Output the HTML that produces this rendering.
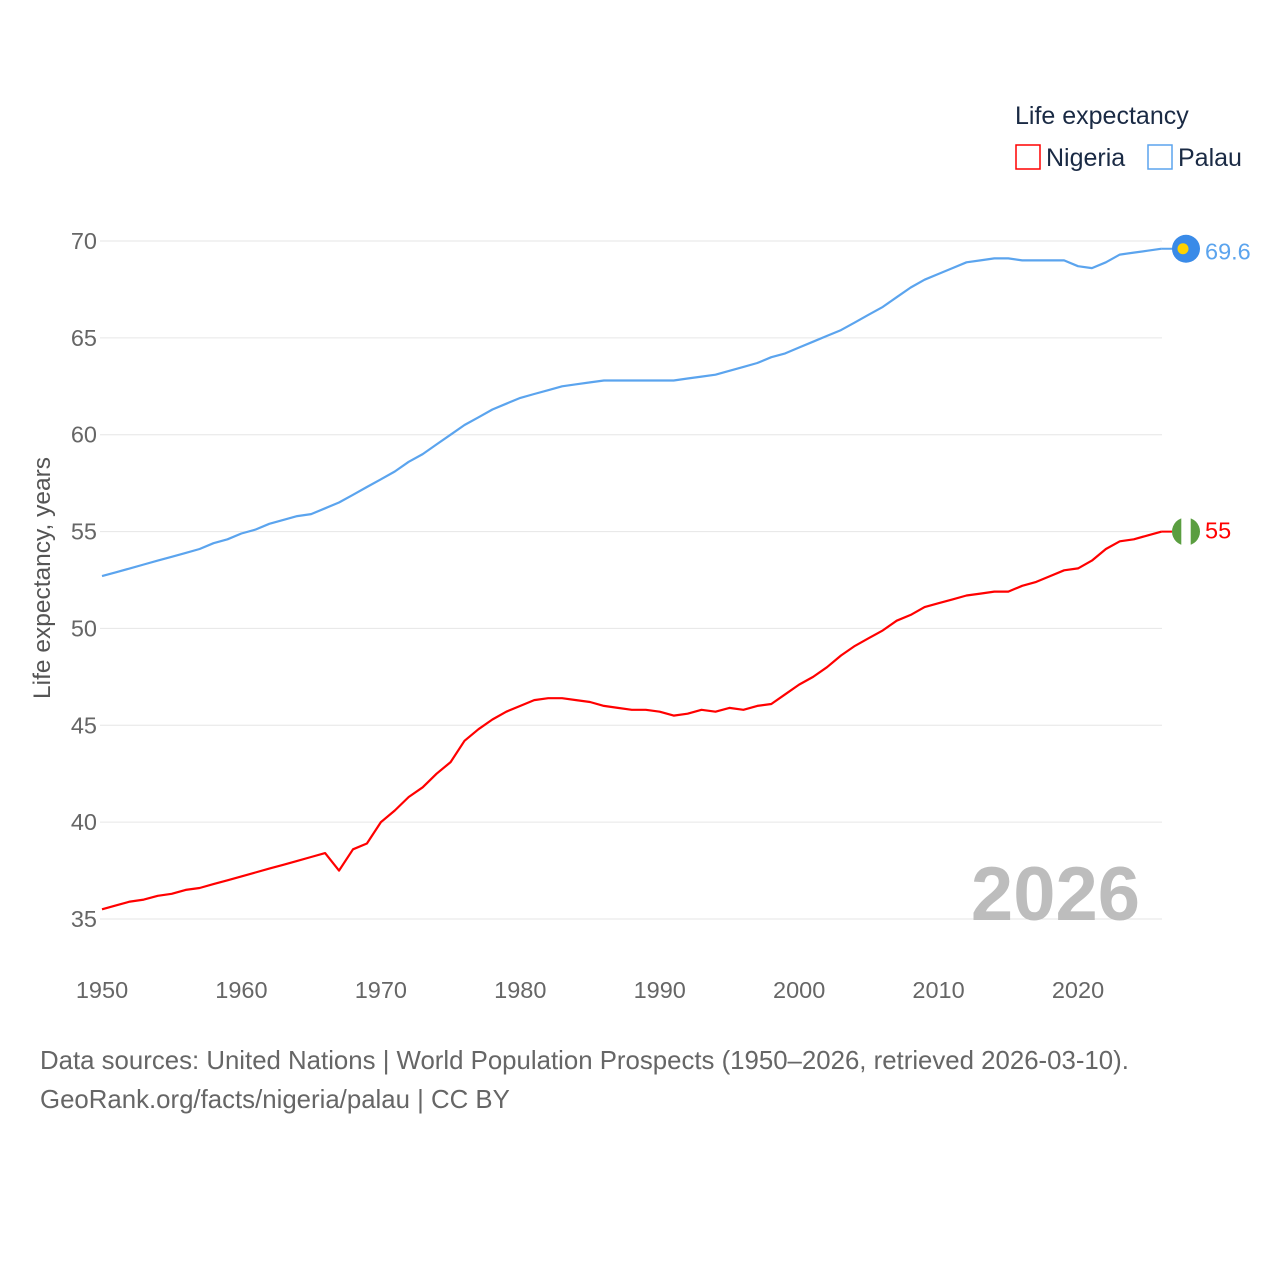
<!DOCTYPE html>
<html><head><meta charset="utf-8">
<style>
html,body{margin:0;padding:0;background:#fff;}
svg{display:block;font-family:"Liberation Sans",sans-serif;}
</style></head>
<body>
<svg id="chart" width="1280" height="1280" xmlns="http://www.w3.org/2000/svg">
<g id="grid"></g>
<g id="yticks"></g>
<g id="xticks"></g>
<text x="50" y="578" transform="rotate(-90 50 578)" text-anchor="middle" font-size="24.5" fill="#555">Life expectancy, years</text>
<text x="1140" y="920" text-anchor="end" font-size="76" font-weight="bold" fill="#bdbdbd">2026</text>
<g id="series"></g>
<g>
<text x="1015" y="124" font-size="25" fill="#1a2a44">Life expectancy</text>
<g><rect x="1016" y="145" width="24" height="24" fill="none" stroke="#ff0000" stroke-width="1.5"/><text x="1046" y="166" font-size="25" fill="#1a2a44">Nigeria</text></g>
<g><rect x="1148" y="145" width="24" height="24" fill="none" stroke="#5ba4ee" stroke-width="1.5"/><text x="1178" y="166" font-size="25" fill="#1a2a44">Palau</text></g>
</g>
<g id="ends"></g>
<text x="40" y="1069" font-size="25.8" fill="#666">Data sources: United Nations | World Population Prospects (1950–2026, retrieved 2026-03-10).</text>
<text x="40" y="1108" font-size="25.8" fill="#666">GeoRank.org/facts/nigeria/palau | CC BY</text>
</svg>
<script>
const years=[];for(let y=1950;y<=2026;y++)years.push(y);
const palau=[52.7,52.9,53.1,53.3,53.5,53.7,53.9,54.1,54.4,54.6,54.9,55.1,55.4,55.6,55.8,55.9,56.2,56.5,56.9,57.3,57.7,58.1,58.6,59.0,59.5,60.0,60.5,60.9,61.3,61.6,61.9,62.1,62.3,62.5,62.6,62.7,62.8,62.8,62.8,62.8,62.8,62.8,62.9,63.0,63.1,63.3,63.5,63.7,64.0,64.2,64.5,64.8,65.1,65.4,65.8,66.2,66.6,67.1,67.6,68.0,68.3,68.6,68.9,69.0,69.1,69.1,69.0,69.0,69.0,69.0,68.7,68.6,68.9,69.3,69.4,69.5,69.6];
const nigeria=[35.5,35.7,35.9,36.0,36.2,36.3,36.5,36.6,36.8,37.0,37.2,37.4,37.6,37.8,38.0,38.2,38.4,37.5,38.6,38.9,40.0,40.6,41.3,41.8,42.5,43.1,44.2,44.8,45.3,45.7,46.0,46.3,46.4,46.4,46.3,46.2,46.0,45.9,45.8,45.8,45.7,45.5,45.6,45.8,45.7,45.9,45.8,46.0,46.1,46.6,47.1,47.5,48.0,48.6,49.1,49.5,49.9,50.4,50.7,51.1,51.3,51.5,51.7,51.8,51.9,51.9,52.2,52.4,52.7,53.0,53.1,53.5,54.1,54.5,54.6,54.8,55.0];
const yTicks=[35,40,45,50,55,60,65,70];
const xTicks=[1950,1960,1970,1980,1990,2000,2010,2020];
const endLabels=["69.6","55"];
const NS="http://www.w3.org/2000/svg";
const X=v=>102+(v-1950)*(976/70);
const Y=v=>241+(70-v)*(678/35);
function mk(tag,attrs,parent){const e=document.createElementNS(NS,tag);for(const k in attrs)e.setAttribute(k,attrs[k]);parent.appendChild(e);return e;}
const grid=document.getElementById('grid'),yt=document.getElementById('yticks'),xt=document.getElementById('xticks');
yTicks.forEach(t=>{
 const l=mk('line',{x1:100,x2:1162,y1:Y(t),y2:Y(t),stroke:'#e6e6e6','stroke-width':1},grid);
 
 
 const tx=mk('text',{x:97,y:Y(t)+8,'text-anchor':'end','font-size':23.5,fill:'#666'},yt);tx.textContent=t;
 
 
});
xTicks.forEach(t=>{
 const tx=mk('text',{x:X(t),y:998,'text-anchor':'middle','font-size':23.5,fill:'#666'},xt);tx.textContent=t;
 
 
});
const sg=document.getElementById('series');
function line(data,color,name){
 const d=data.map((v,i)=>(i?'L':'M')+X(years[i]).toFixed(1)+','+Y(v).toFixed(1)).join('');
 const p=mk('path',{d:d,fill:'none',stroke:color,'stroke-width':2.2,'stroke-linejoin':'round'},sg);
 
 
}
line(palau,'#5ba4ee','palau-line');
line(nigeria,'#ff0000','nigeria-line');
const ends=document.getElementById('ends');
const lx=X(2026);
const pv=palau[palau.length-1],nv=nigeria[nigeria.length-1];
mk('line',{x1:lx,x2:1186,y1:Y(pv),y2:Y(pv),stroke:'#5ba4ee','stroke-width':2},ends);
const pc=mk('circle',{cx:1186,cy:Y(pv),r:14,fill:'#3a8be8'},ends);


mk('circle',{cx:1183,cy:Y(pv),r:5.5,fill:'#ffd200'},ends);
const pl=mk('text',{x:1205,y:Y(pv)+11,'font-size':23.5,fill:'#5ba4ee'},ends);pl.textContent=endLabels[0];


mk('line',{x1:lx,x2:1186,y1:Y(nv),y2:Y(nv),stroke:'#ff0000','stroke-width':2},ends);
const cp=mk('clipPath',{id:'ngclip'},ends);mk('circle',{cx:1186,cy:Y(nv),r:14},cp);
const ng=mk('g',{'clip-path':'url(#ngclip)'},ends);


mk('rect',{x:1172,y:Y(nv)-14,width:28,height:28,fill:'#ffffff'},ng);
mk('rect',{x:1172,y:Y(nv)-14,width:9.3,height:28,fill:'#5a9e40'},ng);
mk('rect',{x:1190.7,y:Y(nv)-14,width:9.3,height:28,fill:'#5a9e40'},ng);
const nl=mk('text',{x:1205,y:Y(nv)+7,'font-size':23.5,fill:'#ff0000'},ends);nl.textContent=endLabels[1];


</script>
</body></html>
